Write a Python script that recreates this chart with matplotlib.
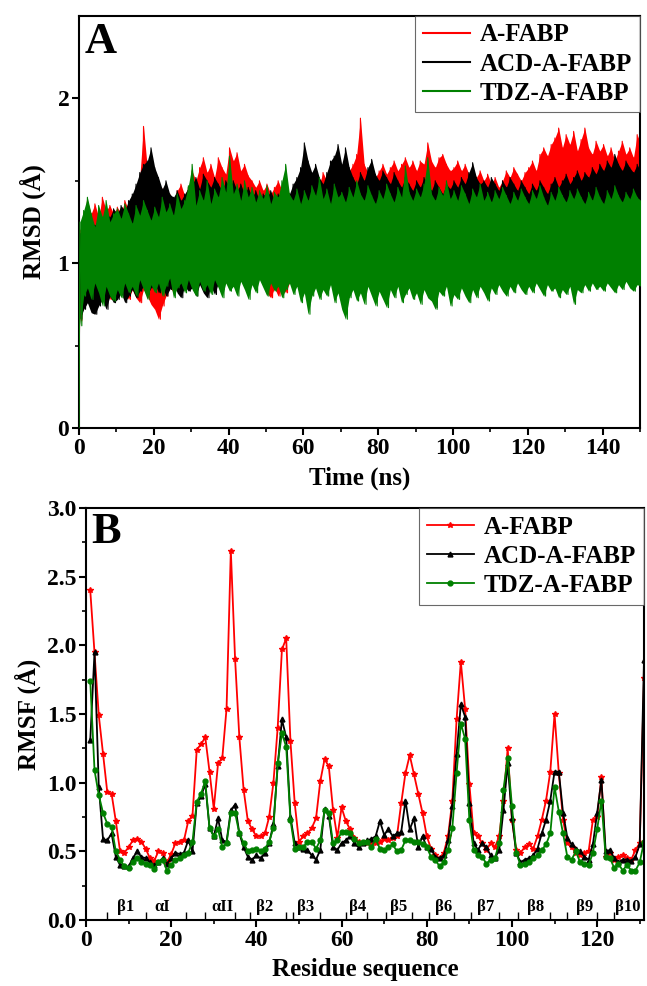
import numpy as np
import matplotlib
matplotlib.use('Agg')
import matplotlib.pyplot as plt

plt.rcParams['font.family'] = ['Liberation Serif', 'DejaVu Serif']
plt.rcParams['font.weight'] = 'bold'
plt.rcParams['axes.linewidth'] = 1.5

names = ['A-FABP', 'ACD-A-FABP', 'TDZ-A-FABP']
colors = ['red', 'black', 'green']

# ---- panel A: RMSD, upper and lower envelope read per ns (t = 0..150)
red_hi = [1.20, 1.28, 1.38, 1.30, 1.36, 1.28, 1.40, 1.32, 1.35, 1.30,
          1.34, 1.30, 1.38, 1.32, 1.40, 1.45, 1.52, 1.83, 1.58, 1.50,
          1.44, 1.40, 1.45, 1.38, 1.42, 1.36, 1.44, 1.48, 1.41, 1.46,
          1.56, 1.50, 1.58, 1.64, 1.55, 1.60, 1.52, 1.64, 1.58, 1.54,
          1.70, 1.62, 1.67, 1.56, 1.60, 1.53, 1.50, 1.46, 1.50, 1.44,
          1.48, 1.42, 1.46, 1.50, 1.44, 1.48, 1.42, 1.40, 1.45, 1.50,
          1.55, 1.50, 1.46, 1.52, 1.48, 1.55, 1.50, 1.58, 1.62, 1.66,
          1.58, 1.62, 1.56, 1.60, 1.66, 1.88, 1.60, 1.55, 1.58, 1.52,
          1.56, 1.60, 1.54, 1.58, 1.62, 1.56, 1.60, 1.64, 1.58, 1.62,
          1.56, 1.62, 1.60, 1.73, 1.62, 1.58, 1.64, 1.66, 1.60, 1.56,
          1.58, 1.62, 1.56, 1.60, 1.54, 1.58, 1.52, 1.56, 1.50, 1.54,
          1.48, 1.52, 1.46, 1.50, 1.56, 1.52, 1.58, 1.54, 1.50, 1.55,
          1.58, 1.62, 1.56, 1.66, 1.70, 1.65, 1.72, 1.76, 1.82, 1.70,
          1.78, 1.72, 1.80, 1.68, 1.75, 1.82, 1.70, 1.66, 1.74, 1.68,
          1.72, 1.65, 1.70, 1.62, 1.68, 1.74, 1.66, 1.70, 1.64, 1.78,
          1.72]
red_lo = [0.65, 0.74, 0.80, 0.77, 0.84, 0.80, 0.86, 0.82, 0.78, 0.84,
          0.80, 0.86, 0.82, 0.78, 0.84, 0.79, 0.76, 0.84, 0.80, 0.75,
          0.72, 0.66, 0.74, 0.80, 0.86, 0.82, 0.88, 0.84, 0.90, 0.86,
          0.92, 0.88, 0.94, 0.90, 0.87, 0.93, 0.89, 0.95, 0.91, 0.88,
          0.94, 0.90, 0.96, 0.92, 0.89, 0.95, 0.91, 0.88, 0.94, 0.90,
          0.82, 0.79, 0.85, 0.80, 0.86, 0.82, 0.88, 0.92, 0.96, 0.93,
          0.98, 0.94, 1.00, 0.96, 0.93, 0.99, 0.95, 1.01, 0.97, 0.94,
          1.00, 0.96, 1.02, 0.98, 0.95, 1.01, 0.97, 1.03, 0.99, 0.96,
          1.02, 0.98, 1.04, 1.00, 0.97, 1.03, 0.99, 1.05, 1.01, 0.98,
          1.04, 1.00, 0.97, 1.03, 0.99, 0.95, 1.01, 1.06, 1.02, 0.98,
          1.04, 1.00, 1.06, 1.02, 0.98, 1.04, 1.00, 1.06, 1.02, 0.99,
          1.05, 1.01, 0.97, 1.03, 0.99, 1.05, 1.01, 1.07, 1.03, 1.00,
          1.06, 1.02, 1.08, 1.04, 1.00, 1.06, 1.02, 1.08, 1.04, 1.10,
          1.06, 1.12, 1.08, 1.04, 1.10, 1.06, 1.12, 1.08, 1.05, 1.11,
          1.07, 1.13, 1.09, 1.05, 1.11, 1.07, 1.13, 1.09, 1.06, 1.12,
          1.08]
blk_hi = [1.18, 1.22, 1.20, 1.25, 1.23, 1.27, 1.24, 1.30, 1.28, 1.33,
          1.30, 1.35, 1.32, 1.38, 1.42, 1.48, 1.55, 1.60, 1.62, 1.70,
          1.58, 1.52, 1.45, 1.50, 1.42, 1.40, 1.44, 1.38, 1.42, 1.46,
          1.48, 1.52, 1.45, 1.54, 1.50, 1.46, 1.52, 1.48, 1.44, 1.50,
          1.46, 1.50, 1.44, 1.48, 1.42, 1.46, 1.40, 1.44, 1.38, 1.42,
          1.40, 1.44, 1.38, 1.42, 1.40, 1.45, 1.42, 1.48, 1.52, 1.58,
          1.73, 1.62, 1.55, 1.60, 1.52, 1.48, 1.55, 1.62, 1.65, 1.72,
          1.60, 1.70, 1.58, 1.52, 1.48, 1.55, 1.50, 1.58, 1.63, 1.54,
          1.50, 1.56, 1.52, 1.48, 1.55, 1.50, 1.46, 1.52, 1.48, 1.44,
          1.50, 1.46, 1.52, 1.48, 1.44, 1.50, 1.46, 1.42, 1.48, 1.45,
          1.50, 1.46, 1.52, 1.48, 1.55, 1.61, 1.52, 1.48, 1.50, 1.46,
          1.52, 1.48, 1.44, 1.50, 1.46, 1.52, 1.48, 1.44, 1.50, 1.46,
          1.42, 1.48, 1.44, 1.50, 1.46, 1.42, 1.48, 1.52, 1.46, 1.50,
          1.54, 1.48, 1.52, 1.56, 1.50, 1.55, 1.52, 1.58, 1.54, 1.60,
          1.56, 1.62, 1.58, 1.66, 1.60, 1.56, 1.62, 1.58, 1.55, 1.60,
          1.55]
blk_lo = [0.66, 0.72, 0.76, 0.70, 0.69, 0.74, 0.78, 0.72, 0.80, 0.76,
          0.78, 0.82, 0.76, 0.80, 0.84, 0.79, 0.83, 0.86, 0.81, 0.85,
          0.88, 0.82, 0.86, 0.80, 0.84, 0.88, 0.82, 0.79, 0.86, 0.83,
          0.85, 0.80, 0.87, 0.82, 0.79, 0.86, 0.81, 0.88, 0.84, 0.90,
          0.92, 0.96, 0.91, 0.98, 0.94, 0.90, 0.97, 0.93, 0.99, 0.95,
          0.97, 0.93, 0.99, 0.95, 1.00, 0.96, 0.92, 0.98, 0.94, 0.99,
          0.95, 1.00, 0.96, 1.01, 0.97, 0.94, 1.00, 0.96, 1.02, 0.98,
          0.94, 1.00, 0.96, 1.02, 0.98, 0.95, 1.01, 0.97, 0.99, 0.96,
          1.00, 0.97, 1.02, 0.98, 0.95, 1.01, 0.97, 1.03, 0.99, 0.96,
          1.01, 0.97, 0.94, 1.00, 0.96, 0.73, 0.92, 0.98, 0.94, 1.00,
          0.96, 1.01, 0.97, 0.93, 0.99, 0.95, 0.90, 0.98, 0.94, 1.01,
          0.97, 1.02, 0.98, 0.95, 1.01, 0.97, 1.03, 0.99, 0.96, 1.02,
          0.98, 1.03, 0.99, 0.96, 1.02, 0.98, 1.04, 0.84, 1.01, 0.97,
          1.03, 0.99, 1.05, 1.01, 0.97, 1.03, 1.00, 1.06, 1.02, 0.98,
          1.04, 1.00, 1.06, 1.02, 0.99, 1.05, 1.01, 1.07, 1.03, 1.00,
          1.04]
grn_hi = [1.25, 1.32, 1.40, 1.30, 1.22, 1.35, 1.28, 1.38, 1.25, 1.30,
          1.33, 1.27, 1.36, 1.30, 1.24, 1.35, 1.29, 1.38, 1.32, 1.26,
          1.34, 1.28, 1.40, 1.31, 1.36, 1.29, 1.42, 1.33, 1.38, 1.47,
          1.60, 1.35, 1.44, 1.38, 1.50, 1.36, 1.45, 1.40, 1.52, 1.43,
          1.65, 1.42, 1.48, 1.38, 1.50, 1.40, 1.46, 1.37, 1.44, 1.39,
          1.47, 1.36, 1.43, 1.40, 1.50, 1.60, 1.42, 1.38, 1.45, 1.36,
          1.44, 1.38, 1.47, 1.41, 1.52, 1.39, 1.45, 1.36, 1.48, 1.40,
          1.43, 1.37, 1.46, 1.40, 1.50, 1.42, 1.38, 1.47, 1.41, 1.36,
          1.44, 1.39, 1.48, 1.42, 1.37, 1.46, 1.40, 1.59, 1.43, 1.38,
          1.45, 1.40, 1.48, 1.64, 1.42, 1.38, 1.46, 1.41, 1.50, 1.39,
          1.44, 1.38, 1.47, 1.42, 1.36, 1.45, 1.40, 1.48, 1.38, 1.43,
          1.37, 1.44, 1.39, 1.46, 1.41, 1.36, 1.43, 1.38, 1.45, 1.40,
          1.36, 1.44, 1.39, 1.47, 1.40, 1.35, 1.43, 1.38, 1.46, 1.41,
          1.37, 1.44, 1.39, 1.45, 1.40, 1.36, 1.43, 1.38, 1.46, 1.40,
          1.36, 1.44, 1.39, 1.47, 1.41, 1.37, 1.43, 1.39, 1.45, 1.40,
          1.38]
grn_lo = [0.62, 0.80, 0.85, 0.78, 0.88, 0.82, 0.74, 0.86, 0.80, 0.77,
          0.84, 0.79, 0.88, 0.82, 0.86, 0.80, 0.90, 0.84, 0.78, 0.87,
          0.82, 0.88, 0.80, 0.86, 0.91, 0.79, 0.85, 0.88, 0.82, 0.90,
          0.84, 0.80, 0.89, 0.83, 0.87, 0.81, 0.90, 0.85, 0.79, 0.88,
          0.83, 0.86, 0.80, 0.89, 0.84, 0.78, 0.87, 0.82, 0.90, 0.85,
          0.80, 0.88, 0.83, 0.86, 0.79, 0.84, 0.88, 0.81, 0.86, 0.76,
          0.82, 0.69, 0.80, 0.85, 0.78, 0.84, 0.80, 0.87, 0.76, 0.82,
          0.72, 0.66, 0.79, 0.84, 0.77, 0.82, 0.75, 0.86, 0.80, 0.74,
          0.83, 0.78, 0.73, 0.84, 0.79, 0.86, 0.76, 0.81, 0.85, 0.78,
          0.82, 0.75, 0.84, 0.79, 0.77, 0.72, 0.83, 0.80, 0.86, 0.74,
          0.81, 0.78, 0.85, 0.80, 0.76, 0.84, 0.79, 0.86, 0.82, 0.77,
          0.85, 0.81, 0.87, 0.83, 0.80, 0.86, 0.82, 0.88, 0.84, 0.81,
          0.86, 0.82, 0.88, 0.84, 0.80, 0.87, 0.83, 0.85, 0.79, 0.84,
          0.81, 0.86, 0.75, 0.84, 0.82, 0.87, 0.83, 0.88, 0.84, 0.86,
          0.83, 0.88, 0.85, 0.82, 0.87, 0.84, 0.89, 0.85, 0.83, 0.87,
          0.86]

# ---- panel B: RMSF per residue (1..131)
rmsf_red = [2.40, 1.95, 1.49, 1.21, 0.93, 0.92, 0.72, 0.50, 0.49, 0.53,
            0.58, 0.59, 0.57, 0.52, 0.45, 0.43, 0.50, 0.49, 0.42, 0.48,
            0.56, 0.57, 0.58, 0.72, 0.76, 1.24, 1.28, 1.33, 1.08, 0.81,
            1.14, 1.18, 1.54, 2.69, 1.90, 1.33, 0.95, 0.72, 0.66, 0.61,
            0.61, 0.63, 0.75, 1.00, 1.40, 1.97, 2.05, 1.30, 0.85, 0.57,
            0.61, 0.63, 0.67, 0.74, 1.01, 1.17, 1.12, 0.80, 0.60, 0.82,
            0.72, 0.66, 0.60, 0.57, 0.56, 0.56, 0.55, 0.56, 0.57, 0.59,
            0.58, 0.60, 0.61, 0.85, 1.07, 1.20, 1.06, 0.92, 0.78, 0.61,
            0.52, 0.47, 0.45, 0.49, 0.61, 0.87, 1.46, 1.88, 1.54, 0.99,
            0.63, 0.61, 0.56, 0.51, 0.56, 0.53, 0.61, 0.87, 1.25, 0.73,
            0.51, 0.49, 0.53, 0.55, 0.52, 0.61, 0.73, 0.87, 1.08, 1.50,
            1.07, 0.73, 0.56, 0.53, 0.49, 0.47, 0.49, 0.50, 0.73, 0.75,
            1.04, 0.46, 0.49, 0.44, 0.46, 0.47, 0.45, 0.44, 0.51, 0.56,
            1.76]
rmsf_blk = [1.31, 1.95, 0.97, 0.59, 0.58, 0.63, 0.46, 0.40, 0.39, 0.39,
            0.45, 0.50, 0.46, 0.45, 0.42, 0.40, 0.42, 0.45, 0.41, 0.45,
            0.49, 0.48, 0.49, 0.58, 0.50, 0.85, 0.90, 0.99, 0.67, 0.61,
            0.74, 0.58, 0.57, 0.80, 0.84, 0.63, 0.53, 0.46, 0.44, 0.47,
            0.45, 0.49, 0.56, 0.70, 1.12, 1.46, 1.33, 0.75, 0.56, 0.53,
            0.52, 0.51, 0.47, 0.44, 0.51, 0.81, 0.76, 0.53, 0.51, 0.56,
            0.58, 0.61, 0.56, 0.53, 0.56, 0.58, 0.59, 0.61, 0.72, 0.62,
            0.66, 0.61, 0.63, 0.64, 0.87, 0.66, 0.74, 0.53, 0.61, 0.53,
            0.52, 0.46, 0.45, 0.47, 0.58, 0.83, 1.21, 1.57, 1.48, 0.85,
            0.56, 0.51, 0.56, 0.53, 0.47, 0.45, 0.51, 0.80, 1.14, 0.74,
            0.49, 0.42, 0.44, 0.45, 0.47, 0.52, 0.63, 0.73, 0.87, 1.08,
            1.08, 0.78, 0.60, 0.55, 0.52, 0.50, 0.46, 0.44, 0.55, 0.78,
            1.02, 0.50, 0.51, 0.45, 0.42, 0.44, 0.44, 0.43, 0.46, 0.55,
            1.89]
rmsf_grn = [1.74, 1.09, 0.91, 0.78, 0.70, 0.68, 0.50, 0.44, 0.39, 0.38,
            0.42, 0.45, 0.42, 0.41, 0.40, 0.37, 0.42, 0.44, 0.36, 0.40,
            0.44, 0.45, 0.47, 0.49, 0.57, 0.86, 0.92, 1.01, 0.67, 0.61,
            0.66, 0.53, 0.56, 0.78, 0.78, 0.63, 0.56, 0.50, 0.51, 0.52,
            0.50, 0.52, 0.57, 0.67, 1.14, 1.36, 1.26, 0.73, 0.52, 0.53,
            0.53, 0.57, 0.57, 0.52, 0.58, 0.80, 0.78, 0.56, 0.58, 0.64,
            0.64, 0.63, 0.59, 0.56, 0.57, 0.57, 0.53, 0.59, 0.52, 0.51,
            0.53, 0.55, 0.50, 0.51, 0.58, 0.58, 0.57, 0.57, 0.55, 0.53,
            0.46, 0.44, 0.39, 0.42, 0.51, 0.67, 1.07, 1.43, 1.32, 0.73,
            0.51, 0.47, 0.46, 0.41, 0.44, 0.45, 0.56, 0.95, 1.18, 0.83,
            0.49, 0.40, 0.41, 0.42, 0.45, 0.47, 0.51, 0.55, 0.63, 0.97,
            0.79, 0.63, 0.46, 0.44, 0.50, 0.42, 0.41, 0.40, 0.49, 0.66,
            0.87, 0.46, 0.45, 0.38, 0.41, 0.36, 0.40, 0.36, 0.36, 0.42,
            0.57]

ss_labels = ['β1', 'αI', 'αII', 'β2', 'β3', 'β4', 'β5', 'β6', 'β7', 'β8', 'β9', 'β10']
ss_centers = [9.2, 17.9, 32.0, 41.9, 51.5, 63.7, 73.4, 83.9, 93.9, 105.6, 117.0, 127.3]
ss_bounds = [5, 14, 23.5, 28, 35, 38.5, 47, 48.5, 55, 61, 66, 70.5,
             76.5, 80.5, 86.5, 90.5, 97, 101.5, 109, 113, 120, 124]

fig = plt.figure(figsize=(6.47, 9.86), dpi=100)
axA = fig.add_axes([79 / 647, 1 - 428 / 986, 561 / 647, 412 / 986])
axB = fig.add_axes([86 / 647, 1 - 920 / 986, 558 / 647, 412 / 986])

# dense MD trace: band between the lower and upper envelope, plus a zig-zag on top
# (explicit zorder so each series sits completely over the previous one)
t = np.arange(len(grn_hi))
for k, (hi, lo, c, name) in enumerate(zip([red_hi, blk_hi, grn_hi], [red_lo, blk_lo, grn_lo], colors, names)):
    x = np.concatenate([[0.0], np.column_stack([t + 0.25, t + 0.75]).ravel()])
    y = np.concatenate([[0.0], np.column_stack([hi, lo]).ravel()])
    axA.fill_between(t + 0.25, lo, hi, color=c, lw=0, zorder=2 + k)
    axA.plot(x, y, color=c, lw=0.8, label=name, zorder=2.5 + k)

axA.set_xlim(0, 150)
axA.set_ylim(0, 2.5)
axA.set_xticks(np.arange(0, 141, 20))
axA.set_xticks(np.arange(0, 151, 10), minor=True)
axA.set_yticks([0, 1, 2])
axA.set_yticks([0.5, 1.5], minor=True)
axA.set_xlabel('Time (ns)', fontsize=18, fontweight='bold', labelpad=6)
axA.set_ylabel('RMSD (Å)', fontsize=18, fontweight='bold', labelpad=8)
axA.text(0.01, 0.985, 'A', transform=axA.transAxes, fontsize=32, fontweight='bold', va='top', ha='left')
legA = axA.legend(loc='upper right', fontsize=18, frameon=True, fancybox=False, edgecolor='#444444',
                  borderaxespad=0, handlelength=1.9, labelspacing=0.25, borderpad=0.3, handletextpad=0.4)
legA.get_frame().set_linewidth(0.8)
legA.set_zorder(10)
for l in legA.get_lines():
    l.set_linewidth(1.5)

res = np.arange(1, len(rmsf_red) + 1)
axB.plot(res, rmsf_red, color='red', lw=1.3, marker='*', ms=4, label=names[0])
axB.plot(res, rmsf_blk, color='black', lw=1.3, marker='^', ms=3.5, label=names[1])
axB.plot(res, rmsf_grn, color='green', lw=1.3, marker='o', ms=3.5, label=names[2])
axB.set_xlim(0, 131)
axB.set_ylim(0, 3.0)
axB.set_xticks(np.arange(0, 121, 20))
axB.set_xticks(np.arange(0, 131, 10), minor=True)
axB.set_yticks(np.arange(0, 3.01, 0.5))
axB.set_yticks(np.arange(0.25, 3.0, 0.5), minor=True)
axB.set_yticklabels(['%.1f' % v for v in np.arange(0, 3.01, 0.5)])
axB.set_xlabel('Residue sequence', fontsize=18, fontweight='bold', labelpad=5)
axB.set_ylabel('RMSF (Å)', fontsize=18, fontweight='bold', labelpad=4)
axB.text(0.01, 0.99, 'B', transform=axB.transAxes, fontsize=32, fontweight='bold', va='top', ha='left')
legB = axB.legend(loc='upper right', fontsize=18, frameon=True, fancybox=False, edgecolor='#444444',
                  borderaxespad=0, handlelength=1.9, labelspacing=0.25, borderpad=0.3, handletextpad=0.4,
                  numpoints=1)
legB.get_frame().set_linewidth(0.8)

axB.vlines(ss_bounds, 0, 0.06, color='black', lw=1.0)
for lab, xc in zip(ss_labels, ss_centers):
    axB.text(xc, 0.035, lab, fontsize=12, fontweight='bold', ha='center', va='bottom')

for ax in (axA, axB):
    ax.tick_params(which='major', direction='out', length=5, width=1.5, labelsize=17, pad=2)
    ax.tick_params(which='minor', direction='out', length=3, width=1.2)
    for lab in ax.get_xticklabels() + ax.get_yticklabels():
        lab.set_fontweight('bold')

fig.savefig('out.png', dpi=100)
